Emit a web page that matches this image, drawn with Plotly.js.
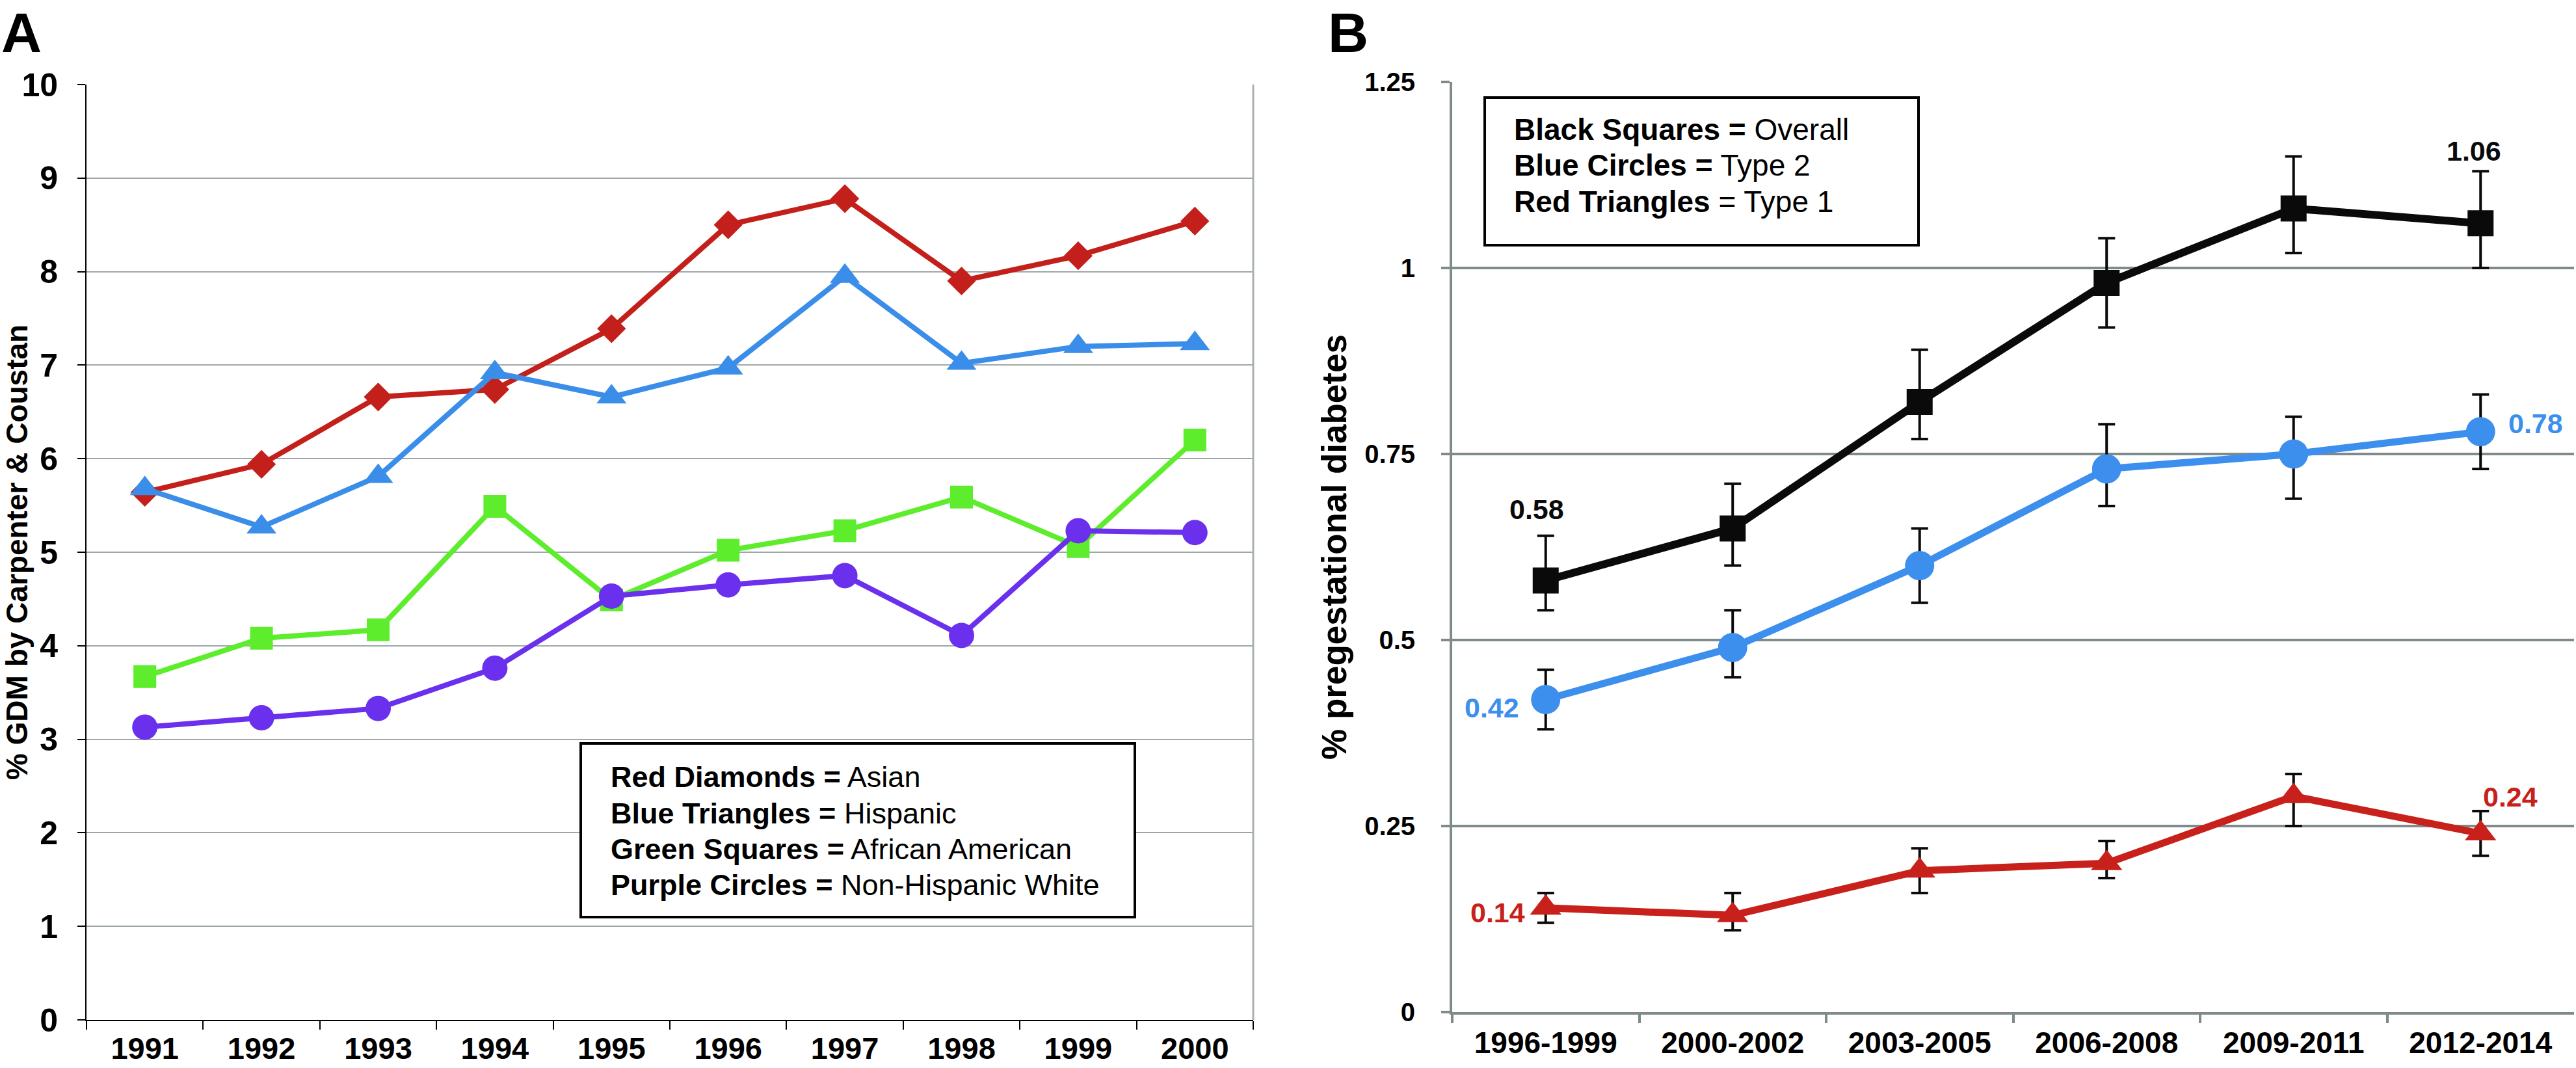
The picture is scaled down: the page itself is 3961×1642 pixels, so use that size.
<!DOCTYPE html>
<html>
<head>
<meta charset="utf-8">
<script src="https://cdn.plot.ly/plotly-3.0.1.min.js"></script>
<style>
  html, body { margin: 0; padding: 0; background: #fff; }
  #chart { width: 3961px; height: 1642px; }
</style>
</head>
<body>
<div id="chart"></div>
<script>
// ---------- Panel A data ----------
const yearsA = ['1991','1992','1993','1994','1995','1996','1997','1998','1999','2000'];
const asian = [5.64, 5.94, 6.66, 6.74, 7.39, 8.50, 8.78, 7.90, 8.17, 8.54];
const hispanic = [5.68, 5.27, 5.81, 6.92, 6.66, 6.97, 7.95, 7.02, 7.20, 7.23];
const africanAmerican = [3.67, 4.08, 4.17, 5.49, 4.49, 5.02, 5.23, 5.59, 5.06, 6.20];
const nonHispanicWhite = [3.13, 3.23, 3.33, 3.76, 4.53, 4.65, 4.75, 4.11, 5.23, 5.21];
const legendA = [
  ['Red Diamonds =', 'Asian'],
  ['Blue Triangles =', 'Hispanic'],
  ['Green Squares =', 'African American'],
  ['Purple Circles =', 'Non-Hispanic White']
];

// ---------- Panel B data ----------
const periodsB = ['1996-1999','2000-2002','2003-2005','2006-2008','2009-2011','2012-2014'];
const overall = [0.58, 0.65, 0.82, 0.98, 1.08, 1.06];
const overallLow = [0.54, 0.60, 0.77, 0.92, 1.02, 1.00];
const overallHigh = [0.64, 0.71, 0.89, 1.04, 1.15, 1.13];
const type2 = [0.42, 0.49, 0.60, 0.73, 0.75, 0.78];
const type2Low = [0.38, 0.45, 0.55, 0.68, 0.69, 0.73];
const type2High = [0.46, 0.54, 0.65, 0.79, 0.80, 0.83];
const type1 = [0.14, 0.13, 0.19, 0.20, 0.29, 0.24];
const type1Low = [0.12, 0.11, 0.16, 0.18, 0.25, 0.21];
const type1High = [0.16, 0.16, 0.22, 0.23, 0.32, 0.27];
const legendB = [
  ['<b>Black Squares =</b>', 'Overall'],
  ['<b>Blue Circles =</b>', 'Type 2'],
  ['<b>Red Triangles</b> =', 'Type 1']
];

// ---------- geometry (pixels) ----------
const W = 3961, H = 1642;
const px = v => v / W;
const py = v => 1 - v / H;

const NARROW = 'Liberation Sans Narrow, Arial Narrow, Liberation Sans, Arial, sans-serif';
const SANS = 'Liberation Sans, Arial, Helvetica, sans-serif';

const cRed = '#c3201b', cBlue = '#3a8de8', cGreen = '#5ded2c', cPurple = '#6a30ee';
const cBlack = '#0a0a0a', cBlueB = '#3d8fee', cRedB = '#c8201a';
const gridB = '#7f8b8b';

function up(hi, v) { return hi.map((h, i) => +(h - v[i]).toFixed(3)); }
function down(lo, v) { return lo.map((l, i) => +(v[i] - l).toFixed(3)); }

const traces = [
  { x: yearsA, y: asian, xaxis: 'x', yaxis: 'y', mode: 'lines+markers', name: 'Asian',
    line: { color: cRed, width: 8 }, marker: { symbol: 'diamond', size: 34, color: cRed } },
  { x: yearsA, y: hispanic, xaxis: 'x', yaxis: 'y', mode: 'lines+markers', name: 'Hispanic',
    line: { color: cBlue, width: 8 }, marker: { symbol: 'triangle-up', size: 40, color: cBlue } },
  { x: yearsA, y: africanAmerican, xaxis: 'x', yaxis: 'y', mode: 'lines+markers', name: 'African American',
    line: { color: cGreen, width: 8 }, marker: { symbol: 'square', size: 35, color: cGreen } },
  { x: yearsA, y: nonHispanicWhite, xaxis: 'x', yaxis: 'y', mode: 'lines+markers', name: 'Non-Hispanic White',
    line: { color: cPurple, width: 8 }, marker: { symbol: 'circle', size: 39, color: cPurple } },

  { x: periodsB, y: overall, xaxis: 'x2', yaxis: 'y2', mode: 'lines+markers', name: 'Overall',
    line: { color: cBlack, width: 12 }, marker: { symbol: 'square', size: 40, color: cBlack },
    error_y: { type: 'data', symmetric: false, array: up(overallHigh, overall), arrayminus: down(overallLow, overall),
      color: cBlack, thickness: 4, width: 13 } },
  { x: periodsB, y: type2, xaxis: 'x2', yaxis: 'y2', mode: 'lines+markers', name: 'Type 2',
    line: { color: cBlueB, width: 11 }, marker: { symbol: 'circle', size: 45, color: cBlueB },
    error_y: { type: 'data', symmetric: false, array: up(type2High, type2), arrayminus: down(type2Low, type2),
      color: cBlack, thickness: 4, width: 13 } },
  { x: periodsB, y: type1, xaxis: 'x2', yaxis: 'y2', mode: 'lines+markers', name: 'Type 1',
    line: { color: cRedB, width: 11 }, marker: { symbol: 'triangle-up', size: 42, color: cRedB },
    error_y: { type: 'data', symmetric: false, array: up(type1High, type1), arrayminus: down(type1Low, type1),
      color: cBlack, thickness: 4, width: 13 } }
];

const annotations = [
  { text: '<b>A</b>', xref: 'paper', yref: 'paper', x: 0, y: 1, xanchor: 'left', yanchor: 'top', yshift: 0,
    showarrow: false, font: { family: SANS, size: 86, color: '#000' } },
  { text: '<b>B</b>', xref: 'paper', yref: 'paper', x: px(2040), y: 1, xanchor: 'left', yanchor: 'top', yshift: 0,
    showarrow: false, font: { family: SANS, size: 86, color: '#000' } }
];

// legend A lines
const legAy = [1194, 1250, 1305, 1360];
legendA.forEach((l, i) => annotations.push({
  text: '<b>' + l[0] + '</b> ' + l[1], xref: 'paper', yref: 'paper', x: px(937), y: py(legAy[i]),
  xanchor: 'left', yanchor: 'middle', showarrow: false, font: { family: SANS, size: 45, color: '#000' }
}));
// legend B lines
const legBy = [199, 254, 310];
legendB.forEach((l, i) => annotations.push({
  text: l[0] + ' ' + l[1], xref: 'paper', yref: 'paper', x: px(2326), y: py(legBy[i]),
  xanchor: 'left', yanchor: 'middle', showarrow: false, font: { family: SANS, size: 46, color: '#000' }
}));

// value labels panel B
const last = periodsB.length - 1;
const vlab = (x, y, val, color, xs, ys, anchor) => ({
  text: '<b>' + val.toFixed(2) + '</b>', xref: 'x2', yref: 'y2', x: x, y: y, showarrow: false,
  xanchor: anchor || 'center', yanchor: 'middle', xshift: xs, yshift: ys,
  font: { family: SANS, size: 43, color: color }
});
annotations.push(vlab(periodsB[0], overallHigh[0], overall[0], cBlack, -14, 41));
annotations.push(vlab(periodsB[last], overallHigh[last], overall[last], cBlack, -10, 31));
annotations.push(vlab(periodsB[last], type2[last], type2[last], cBlueB, 85, 13));
annotations.push(vlab(periodsB[0], type2[0], type2[0], cBlueB, -83, -12));
annotations.push(vlab(periodsB[0], type1[0], type1[0], cRedB, -74, -7));
annotations.push(vlab(periodsB[last], type1[last], type1[last], cRedB, 46, 56));

const shapes = [
  // right edge of panel A plot area
  { type: 'line', xref: 'x domain', yref: 'y domain', x0: 1, x1: 1, y0: 0, y1: 1,
    line: { color: '#a9b1b1', width: 3 } },
  // legend boxes
  { type: 'rect', xref: 'paper', yref: 'paper', x0: px(893), x1: px(1745), y0: py(1410), y1: py(1143),
    line: { color: '#000', width: 4 }, fillcolor: '#fff', layer: 'above' },
  { type: 'rect', xref: 'paper', yref: 'paper', x0: px(2283), x1: px(2950), y0: py(377), y1: py(150),
    line: { color: '#000', width: 4 }, fillcolor: '#fff', layer: 'above' }
];

const layout = {
  width: W, height: H,
  margin: { l: 0, r: 0, t: 0, b: 0, pad: 0 },
  paper_bgcolor: '#fff', plot_bgcolor: '#fff',
  showlegend: false,
  xaxis: {
    domain: [px(133), px(1927)], anchor: 'y', type: 'category', range: [-0.5, 9.5],
    showline: true, linecolor: '#000', linewidth: 2, showgrid: false, zeroline: false,
    ticks: 'outside', tickson: 'boundaries', ticklen: 13, tickwidth: 2, tickcolor: '#000',
    tickfont: { family: NARROW, size: 47, color: '#000', weight: 'bold' }, ticklabelstandoff: 2,
    automargin: false, fixedrange: true
  },
  yaxis: {
    domain: [1 - 1568 / H, 1 - 130 / H], anchor: 'x', range: [0, 10], tick0: 0, dtick: 1,
    showline: true, linecolor: '#000', linewidth: 2, zeroline: false,
    showgrid: true, gridcolor: '#9ea7a7', gridwidth: 2,
    ticks: 'outside', ticklen: 12, tickwidth: 2, tickcolor: '#000',
    tickfont: { family: NARROW, size: 50, color: '#000', weight: 'bold' }, ticklabelstandoff: 20,
    title: { text: '% GDM by Carpenter & Coustan', standoff: 4,
      font: { family: SANS, size: 46, color: '#000', weight: 'bold' } },
    automargin: false, fixedrange: true
  },
  xaxis2: {
    domain: [px(2233), px(3958)], anchor: 'y2', type: 'category', range: [-0.5, 5.5],
    showline: true, linecolor: gridB, linewidth: 4, showgrid: false, zeroline: false,
    ticks: 'outside', tickson: 'boundaries', ticklen: 13, tickwidth: 4, tickcolor: gridB,
    tickfont: { family: SANS, size: 46, color: '#000', weight: 'bold' }, ticklabelstandoff: 4,
    automargin: false, fixedrange: true
  },
  yaxis2: {
    domain: [1 - 1556 / H, 1 - 126 / H], anchor: 'x2', range: [0, 1.25], tick0: 0, dtick: 0.25,
    showline: true, linecolor: gridB, linewidth: 4, zeroline: false,
    showgrid: true, gridcolor: gridB, gridwidth: 4,
    ticks: 'outside', ticklen: 13, tickwidth: 4, tickcolor: gridB,
    tickfont: { family: SANS, size: 40, color: '#000', weight: 'bold' }, ticklabelstandoff: 32,
    title: { text: '% pregestational diabetes', standoff: 12,
      font: { family: SANS, size: 53, color: '#000', weight: 'bold' } },
    automargin: false, fixedrange: true
  },
  annotations: annotations,
  shapes: shapes
};

Plotly.newPlot('chart', traces, layout, { displayModeBar: false, staticPlot: true });
</script>
</body>
</html>
